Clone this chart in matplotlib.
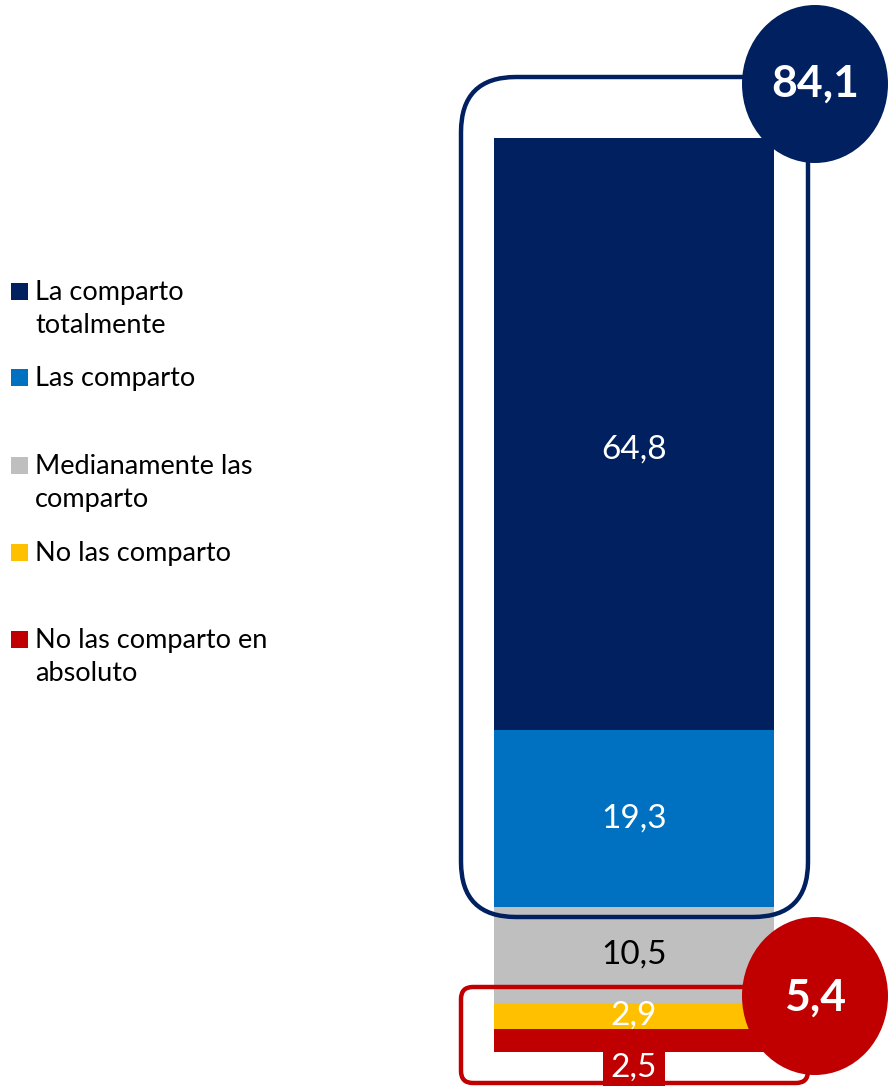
import matplotlib
matplotlib.use("Agg")
import matplotlib.pyplot as plt
from matplotlib.patches import FancyBboxPatch, Ellipse, Rectangle

plt.rcParams['font.family'] = ['Lato', 'DejaVu Sans']

# data (stacked from the bottom up)
categories = ['No las comparto en\nabsoluto', 'No las comparto',
              'Medianamente las\ncomparto', 'Las comparto',
              'La comparto\ntotalmente']
values = [2.5, 2.9, 10.5, 19.3, 64.8]
labels = ['2,5', '2,9', '10,5', '19,3', '64,8']
colors = ['#C00000', '#FFC000', '#BFBFBF', '#0070C0', '#002060']
label_colors = ['white', 'white', 'black', 'white', 'white']

agree_total = values[3] + values[4]
disagree_total = values[0] + values[1]

W, H = 892, 1086
fig = plt.figure(figsize=(W / 100, H / 100), dpi=100)

# bar axes: value 0 at pixel 1052 from top, 100 at pixel 138
ax = fig.add_axes([0, 0, 1, 1])
px_per_unit = (1052 - 138) / 100.0
ax.set_ylim(-(H - 1052) / px_per_unit, 100 + 138 / px_per_unit)
bar_w_px = 280
ax.set_xlim(-634 / bar_w_px, (W - 634) / bar_w_px)
ax.axis('off')

bottom = 0
for v, c, lab, lc in zip(values, colors, labels, label_colors):
    ax.bar(0, v, bottom=bottom, width=1, color=c, zorder=1)
    mid = bottom + v / 2
    if lab == '2,5':
        ax.annotate(lab, (0, bottom), xytext=(0, -16), textcoords='offset pixels',
                    ha='center', va='center', color='white', fontsize=24, zorder=5,
                    bbox=dict(boxstyle='square,pad=0.22', fc='#C00000', ec='none'))
    elif lab == '64,8':
        ax.annotate(lab, (0, mid), xytext=(0, -15), textcoords='offset pixels',
                    ha='center', va='center', color=lc, fontsize=24, zorder=5)
    else:
        ax.text(0, mid, lab, ha='center', va='center', color=lc, fontsize=24, zorder=5)
    bottom += v

# overlay in pixel coordinates (top-down) for boxes, circles and legend
ov = fig.add_axes([0, 0, 1, 1])
ov.set_xlim(0, W)
ov.set_ylim(H, 0)
ov.axis('off')
ov.patch.set_alpha(0)

ov.add_patch(FancyBboxPatch((461 + 55, 77 + 55), 347 - 110, 840 - 110,
                            boxstyle='round,pad=55', fc='none', ec='#002060', lw=3.2))
ov.add_patch(FancyBboxPatch((461 + 12, 987 + 12), 347 - 24, 96 - 24,
                            boxstyle='round,pad=12', fc='none', ec='#C00000', lw=3.2))

ov.add_patch(Ellipse((815, 84), 146, 158, fc='#002060', ec='none'))
ov.text(815, 84, f'{agree_total:.1f}'.replace('.', ','), ha='center', va='center',
        color='white', fontsize=32, fontweight='bold')
ov.add_patch(Ellipse((815, 996), 146, 158, fc='#C00000', ec='none'))
ov.text(815, 998, f'{disagree_total:.1f}'.replace('.', ','), ha='center', va='center',
        color='white', fontsize=32, fontweight='bold')

# legend (top entry first)
leg_y = [292, 378, 466, 553, 640]
for i, y in enumerate(leg_y):
    k = len(categories) - 1 - i
    ov.add_patch(Rectangle((11, y - 9), 17, 17, fc=colors[k], ec='none'))
    ov.text(35, y - 12, categories[k], ha='left', va='top', fontsize=19.5,
            color='black', linespacing=1.38)

fig.savefig('out.png', dpi=100)
